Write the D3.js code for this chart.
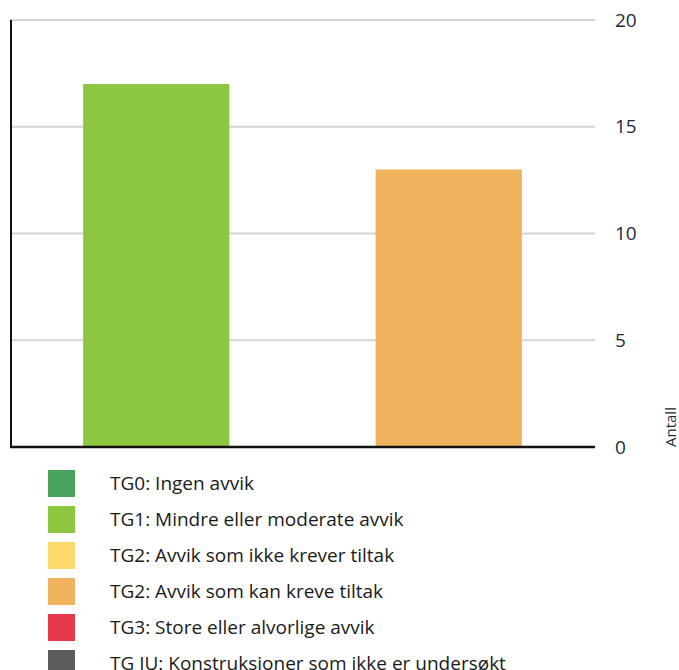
<!DOCTYPE html>
<head>
<meta charset="UTF-8">
<script src="https://cdn.jsdelivr.net/npm/d3@7"></script>
<style>
body { margin: 0; background: #fff; }
svg { display: block; font-family: "Open Sans", Lato, sans-serif; }
.grid line { stroke: #d4d4d4; stroke-width: 2px; }
.tick-label { fill: #1d2a36; font-size: 19px; }
.legend text { fill: #1a1a1a; font-size: 19px; }
</style>
</head>
<body>
<script>

var width = 679,
    height = 670;

// bars
var categories = ["TG1", "TG2b"];
var values = [17, 13];
var barColors = ["#8dc63f", "#efb25d"];

var yTicks = [0, 5, 10, 15, 20];

// legend
var legendLabels = [
    "TG0: Ingen avvik",
    "TG1: Mindre eller moderate avvik",
    "TG2: Avvik som ikke krever tiltak",
    "TG2: Avvik som kan kreve tiltak",
    "TG3: Store eller alvorlige avvik",
    "TG IU: Konstruksjoner som ikke er undersøkt"
];
var legendColors = ["#4aa35c", "#8dc63f", "#fed96b", "#efb25d", "#e4384b", "#5c5c5c"];

var svg = d3.select("body").append("svg")
    .attr("width", width)
    .attr("height", height);

var x = d3.scaleBand()
    .domain(categories)
    .range([10, 595])
    .paddingInner(0.5)
    .paddingOuter(0.25);

var y = d3.scaleLinear()
    .domain([0, 20])
    .range([447, 20]);

// gridlines
svg.append("g").attr("class", "grid")
  .selectAll("line")
    .data(yTicks.filter(d => d > 0))
  .enter().append("line")
    .attr("x1", 10).attr("x2", 595)
    .attr("y1", d => y(d)).attr("y2", d => y(d));

svg.selectAll(".bar")
    .data(values)
  .enter().append("rect")
    .attr("class", "bar")
    .attr("x", (d, i) => x(categories[i]))
    .attr("width", x.bandwidth())
    .attr("y", d => y(d))
    .attr("height", d => y(0) - y(d))
    .attr("fill", (d, i) => barColors[i]);

// left line + baseline
svg.append("line")
    .attr("x1", 11).attr("x2", 11)
    .attr("y1", y(20)).attr("y2", y(0) + 1)
    .attr("stroke", "#111").attr("stroke-width", 2);

svg.append("line")
    .attr("x1", 10).attr("x2", 595)
    .attr("y1", y(0)).attr("y2", y(0))
    .attr("stroke", "#111").attr("stroke-width", 2.5);

svg.selectAll(".tick-label")
    .data(yTicks)
  .enter().append("text")
    .attr("class", "tick-label")
    .attr("x", 615)
    .attr("y", d => y(d))
    .attr("dy", "0.35em")
    .text(d => d);

svg.append("text")
    .attr("transform", "translate(676,447) rotate(-90)")
    .attr("fill", "#1d2a36")
    .style("font-size", "15px")
    .text("Antall");

var legend = svg.append("g").attr("class", "legend")
  .selectAll("g")
    .data(legendLabels)
  .enter().append("g")
    .attr("transform", (d, i) => "translate(48," + (470 + i * 36) + ")");

legend.append("rect")
    .attr("width", 27).attr("height", 27)
    .attr("fill", (d, i) => legendColors[i]);

legend.append("text")
    .attr("x", 62)
    .attr("y", 13.5)
    .attr("dy", "0.35em")
    .text(d => d);

</script>
</body>
